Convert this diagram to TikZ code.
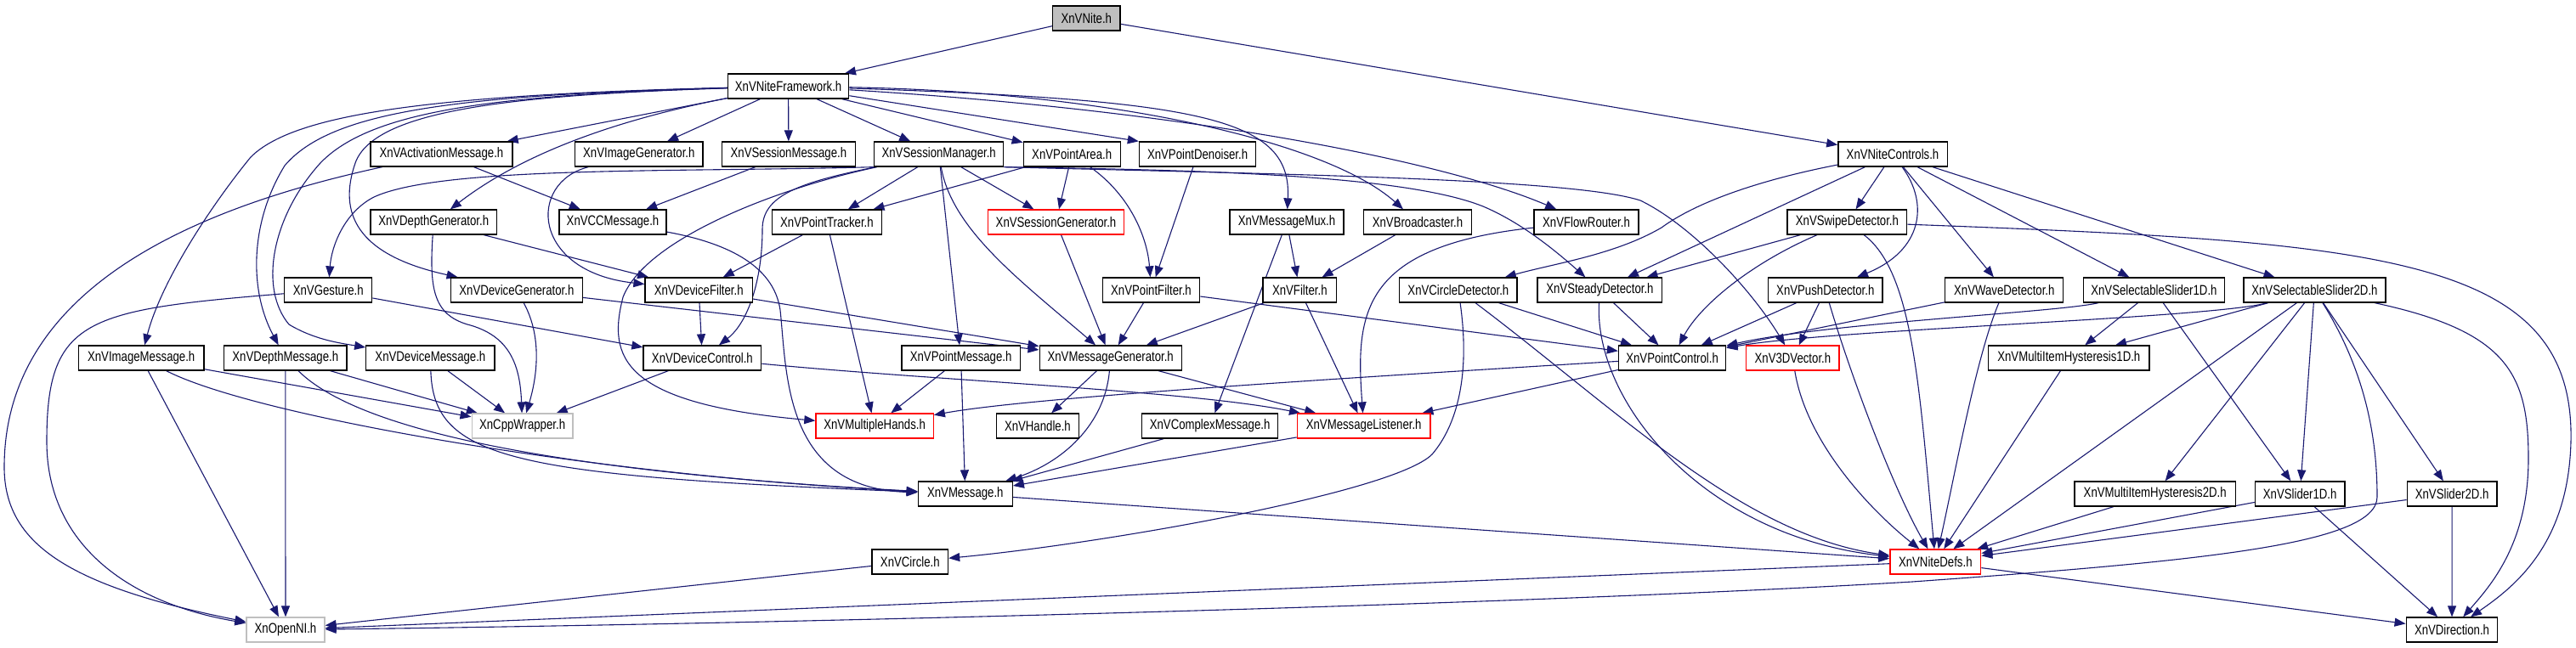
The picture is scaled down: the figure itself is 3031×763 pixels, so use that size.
\documentclass[tikz,border=0pt]{standalone}
\usepackage{fontspec}
\setmainfont{Liberation Sans}[FakeStretch=0.8]
\usetikzlibrary{arrows.meta,backgrounds}
\definecolor{edgeblue}{HTML}{191970}
\definecolor{boxgray}{HTML}{BFBFBF}
\newcommand\lab{\fontsize{16.5pt}{18pt}\selectfont}
\begin{document}
\begin{tikzpicture}[x=1pt,y=-1pt]
\tikzset{
  hbox/.style={draw=black, line width=1.3pt, minimum height=29pt, inner sep=0pt, fill=white, font=\lab},
  redbox/.style={hbox, draw=red},
  graybox/.style={hbox, draw=boxgray},
  edge/.style={draw=edgeblue, line width=1.1pt, -{Triangle[length=13pt,width=10pt]}},
}
\useasboundingbox (0,0) rectangle (3031,763);
% nodes
\node[hbox, fill=boxgray, minimum width=79.4pt] (nite) at (1278.3,21.5) {XnVNite.h};
\node[hbox, minimum width=142.3pt] (fw) at (927.6,101.5) {XnVNiteFramework.h};
\node[hbox, minimum width=167pt] (actmsg) at (519.4,181.5) {XnVActivationMessage.h};
\node[hbox, minimum width=150.6pt] (imggen) at (751.8,181.5) {XnVImageGenerator.h};
\node[hbox, minimum width=156.7pt] (sesmsg) at (927.9,181.5) {XnVSessionMessage.h};
\node[hbox, minimum width=152.2pt] (sesmgr) at (1104.7,181.5) {XnVSessionManager.h};
\node[hbox, minimum width=113.9pt] (ptarea) at (1261.2,181.5) {XnVPointArea.h};
\node[hbox, minimum width=137.3pt] (ptden) at (1409.1,181.5) {XnVPointDenoiser.h};
\node[hbox, minimum width=128.3pt] (nitectl) at (2227,181.5) {XnVNiteControls.h};
\node[hbox, minimum width=148.7pt] (depgen) at (510.2,261.5) {XnVDepthGenerator.h};
\node[hbox, minimum width=126pt] (ccmsg) at (721,261.5) {XnVCCMessage.h};
\node[hbox, minimum width=129.3pt] (pttrk) at (972.9,261.5) {XnVPointTracker.h};
\node[redbox, minimum width=160.2pt] (sesgen) at (1242.5,261.5) {XnVSessionGenerator.h};
\node[hbox, minimum width=134.2pt] (msgmux) at (1514,261.5) {XnVMessageMux.h};
\node[hbox, minimum width=126.8pt] (bcast) at (1668,261.5) {XnVBroadcaster.h};
\node[hbox, minimum width=122.9pt] (flow) at (1866.5,261.5) {XnVFlowRouter.h};
\node[hbox, minimum width=140.8pt] (swipe) at (2173.4,261.5) {XnVSwipeDetector.h};
\node[hbox, minimum width=103pt] (gest) at (386.3,341.5) {XnVGesture.h};
\node[hbox, minimum width=155.2pt] (devgen) at (607.9,341.5) {XnVDeviceGenerator.h};
\node[hbox, minimum width=126.3pt] (devflt) at (822.2,341.5) {XnVDeviceFilter.h};
\node[hbox, minimum width=114.4pt] (ptflt) at (1354.5,341.5) {XnVPointFilter.h};
\node[hbox, minimum width=86.6pt] (filter) at (1529.3,341.5) {XnVFilter.h};
\node[hbox, minimum width=138.3pt] (circdet) at (1715.9,341.5) {XnVCircleDetector.h};
\node[hbox, minimum width=146.7pt] (steady) at (1882.4,341.5) {XnVSteadyDetector.h};
\node[hbox, minimum width=134.3pt] (push) at (2147.8,341.5) {XnVPushDetector.h};
\node[hbox, minimum width=139pt] (wave) at (2358.3,341.5) {XnVWaveDetector.h};
\node[hbox, minimum width=166.4pt] (sel1) at (2534.4,341.5) {XnVSelectableSlider1D.h};
\node[hbox, minimum width=166.9pt] (sel2) at (2723.4,341.5) {XnVSelectableSlider2D.h};
\node[hbox, minimum width=147.3pt] (imgmsg) at (166.2,421.5) {XnVImageMessage.h};
\node[hbox, minimum width=144.3pt] (depmsg) at (335.8,421.5) {XnVDepthMessage.h};
\node[hbox, minimum width=151.2pt] (devmsg) at (506.4,421.5) {XnVDeviceMessage.h};
\node[hbox, minimum width=138.8pt] (devctl) at (826.4,421.5) {XnVDeviceControl.h};
\node[hbox, minimum width=139.3pt] (ptmsg) at (1130.6,421.5) {XnVPointMessage.h};
\node[hbox, minimum width=167.1pt] (msggen) at (1306.7,421.5) {XnVMessageGenerator.h};
\node[hbox, minimum width=126.3pt] (ptctl) at (1967.6,421.5) {XnVPointControl.h};
\node[redbox, minimum width=109.4pt] (v3d) at (2109.4,421.5) {XnV3DVector.h};
\node[hbox, minimum width=189.2pt] (mih1) at (2434.3,421.5) {XnVMultiItemHysteresis1D.h};
\node[graybox, minimum width=118.9pt] (cpp) at (614.6,501.5) {XnCppWrapper.h};
\node[redbox, minimum width=138.3pt] (mhands) at (1029.1,501.5) {XnVMultipleHands.h};
\node[hbox, minimum width=97pt] (handle) at (1220.9,501.5) {XnVHandle.h};
\node[hbox, minimum width=160.2pt] (cplx) at (1423.6,501.5) {XnVComplexMessage.h};
\node[redbox, minimum width=156.7pt] (listener) at (1604.7,501.5) {XnVMessageListener.h};
\node[hbox, minimum width=111pt] (msg) at (1135.8,581.5) {XnVMessage.h};
\node[hbox, minimum width=189.7pt] (mih2) at (2535.7,581.5) {XnVMultiItemHysteresis2D.h};
\node[hbox, minimum width=105.6pt] (sl1) at (2706.2,581.5) {XnVSlider1D.h};
\node[hbox, minimum width=105.6pt] (sl2) at (2885.1,581.5) {XnVSlider2D.h};
\node[hbox, minimum width=89.5pt] (circ) at (1070.8,661.5) {XnVCircle.h};
\node[redbox, minimum width=106.9pt] (defs) at (2277.3,661.5) {XnVNiteDefs.h};
\node[graybox, minimum width=92pt] (openni) at (336,741.5) {XnOpenNI.h};
\node[hbox, minimum width=107.6pt] (dir) at (2885,741.5) {XnVDirection.h};

\begin{pgfonlayer}{background}
\fill[white] (0,0) rectangle (3031,763);
\draw[edge] (nite) -- (fw);
\draw[edge] (nite) -- (nitectl);
% framework
\draw[edge] (fw) -- (actmsg);
\draw[edge] (fw) -- (imggen);
\draw[edge] (fw) -- (sesmsg);
\draw[edge] (fw) -- (sesmgr);
\draw[edge] (fw) -- (ptarea);
\draw[edge] (fw) -- (ptden.north west);
\draw[edge] (fw) .. controls (1420,118) and (1520,140) .. (msgmux);
\draw[edge] (fw) .. controls (1300,108) and (1560,165) .. (bcast);
\draw[edge] (fw) .. controls (1400,130) and (1700,190) .. (flow);
\draw[edge] (fw) .. controls (680,150) and (590,200) .. (depgen);
\draw[edge] (fw) .. controls (600,112) and (440,130) .. (418,192) .. controls (398,250) and (418,300) .. (devgen);
\draw[edge] (fw) .. controls (500,112) and (345,135) .. (295,185) .. controls (250,240) and (190,330) .. (imgmsg);
\draw[edge] (fw) .. controls (540,112) and (390,130) .. (335,195) .. controls (295,260) and (292,340) .. (depmsg);
\draw[edge] (fw) .. controls (580,112) and (425,130) .. (370,200) .. controls (320,260) and (305,340) .. (340,382) .. controls (370,400) and (400,404) .. (devmsg);
% activation message
\draw[edge] (actmsg) -- (ccmsg);
\draw[edge] (actmsg) .. controls (250,240) and (5,330) .. (5,550) .. controls (5,640) and (80,690) .. (openni);
\draw[edge] (imggen) .. controls (620,215) and (625,320) .. (devflt);
\draw[edge] (sesmsg) -- (ccmsg);
% session manager
\draw[edge] (sesmgr) -- (pttrk);
\draw[edge] (sesmgr) -- (sesgen);
\draw[edge] (sesmgr) .. controls (1120,270) and (1200,330) .. (msggen);
\draw[edge] (sesmgr) -- (ptmsg);
\draw[edge] (sesmgr) .. controls (940,215) and (897,230) .. (897,270) .. controls (897,330) and (880,380) .. (devctl);
\draw[edge] (sesmgr) .. controls (920,220) and (760,280) .. (733,350) .. controls (715,420) and (730,475) .. (mhands);
\draw[edge] (sesmgr.south west) .. controls (800,203) and (520,195) .. (440,232) .. controls (405,250) and (390,290) .. (gest);
\draw[edge] (sesmgr.south east) .. controls (1400,200) and (1650,205) .. (1745,243) .. controls (1790,262) and (1830,295) .. (steady);
\draw[edge] (sesmgr.south east) .. controls (1500,205) and (1850,210) .. (1930,236) .. controls (1990,265) and (2060,340) .. (v3d);
% point area / denoiser
\draw[edge] (ptarea) -- (pttrk);
\draw[edge] (ptarea) -- (sesgen);
\draw[edge] (ptarea) .. controls (1330,230) and (1350,280) .. (ptflt);
\draw[edge] (ptden) -- (ptflt);
% nite controls
\draw[edge] (nitectl) .. controls (2080,210) and (2000,235) .. (1955,268) .. controls (1900,300) and (1830,310) .. (circdet);
\draw[edge] (nitectl) -- (steady);
\draw[edge] (nitectl) -- (swipe);
\draw[edge] (nitectl) .. controls (2270,240) and (2262,295) .. (push);
\draw[edge] (nitectl) -- (wave);
\draw[edge] (nitectl) -- (sel1);
\draw[edge] (nitectl) -- (sel2);
% row 3
\draw[edge] (depgen) -- (devflt);
\draw[edge] (depgen) .. controls (505,340) and (510,370) .. (550,382) .. controls (600,395) and (612,430) .. (cpp);
\draw[edge] (ccmsg) .. controls (850,285) and (910,310) .. (918,365) .. controls (926,440) and (922,575) .. (msg);
\draw[edge] (pttrk) -- (devflt);
\draw[edge] (pttrk) -- (mhands);
\draw[edge] (sesgen) -- (msggen);
\draw[edge] (msgmux) -- (filter);
\draw[edge] (msgmux) -- (cplx);
\draw[edge] (bcast) -- (filter);
\draw[edge] (flow) .. controls (1600,290) and (1595,370) .. (listener);
\draw[edge] (swipe) -- (steady);
\draw[edge] (swipe) .. controls (2060,310) and (2000,360) .. (ptctl);
\draw[edge] (swipe) .. controls (2250,320) and (2258,450) .. (defs);
\draw[edge] (swipe) .. controls (2800,285) and (3030,300) .. (3025,520) .. controls (3022,640) and (2960,690) .. (dir);
% row 4
\draw[edge] (gest) .. controls (100,365) and (55,375) .. (55,520) .. controls (55,640) and (150,710) .. (openni);
\draw[edge] (gest) -- (devctl);
\draw[edge] (devgen) .. controls (640,400) and (630,450) .. (cpp);
\draw[edge] (devgen) -- (msggen);
\draw[edge] (devflt) -- (devctl);
\draw[edge] (devflt) -- (msggen);
\draw[edge] (ptflt) -- (msggen);
\draw[edge] (ptflt) -- (ptctl);
\draw[edge] (filter) -- (msggen);
\draw[edge] (filter) -- (listener);
\draw[edge] (circdet) -- (ptctl);
\draw[edge] (circdet) .. controls (1730,440) and (1715,500) .. (1685,535) .. controls (1640,580) and (1300,640) .. (circ);
\draw[edge] (circdet) .. controls (1900,480) and (2050,630) .. (defs);
\draw[edge] (steady) -- (ptctl);
\draw[edge] (steady) .. controls (1875,470) and (2000,630) .. (defs);
\draw[edge] (push) -- (ptctl);
\draw[edge] (push) -- (v3d);
\draw[edge] (push) .. controls (2180,450) and (2230,580) .. (defs);
\draw[edge] (wave) -- (ptctl);
\draw[edge] (wave) .. controls (2325,420) and (2300,560) .. (defs);
\draw[edge] (sel1) .. controls (2420,368) and (2150,380) .. (ptctl);
\draw[edge] (sel1) -- (mih1);
\draw[edge] (sel1) -- (sl1);
\draw[edge] (sel2) .. controls (2600,375) and (2150,388) .. (ptctl);
\draw[edge] (sel2) -- (mih1);
\draw[edge] (sel2) -- (mih2);
\draw[edge] (sel2) -- (sl1);
\draw[edge] (sel2) -- (sl2);
\draw[edge] (sel2) -- (defs);
\draw[edge] (sel2) .. controls (2950,390) and (2975,440) .. (2975,540) .. controls (2975,640) and (2930,690) .. (dir);
\draw[edge] (sel2) .. controls (2785,440) and (2797,520) .. (2797,585) .. controls (2797,640) and (2600,660) .. (2250,685) .. controls (1800,712) and (900,735) .. (openni);
% row 5
\draw[edge] (imgmsg) -- (cpp);
\draw[edge] (imgmsg) .. controls (300,490) and (700,560) .. (msg);
\draw[edge] (imgmsg) -- (openni);
\draw[edge] (depmsg) -- (cpp);
\draw[edge] (depmsg) .. controls (430,515) and (700,558) .. (msg);
\draw[edge] (depmsg) -- (openni);
\draw[edge] (devmsg) -- (cpp);
\draw[edge] (devmsg) .. controls (510,540) and (600,560) .. (msg);
\draw[edge] (devctl) -- (cpp);
\draw[edge] (devctl) .. controls (1100,448) and (1400,460) .. (listener);
\draw[edge] (ptmsg) -- (mhands);
\draw[edge] (ptmsg) -- (msg);
\draw[edge] (msggen) -- (handle);
\draw[edge] (msggen) -- (listener);
\draw[edge] (msggen) .. controls (1300,500) and (1250,545) .. (msg);
\draw[edge] (ptctl) .. controls (1500,450) and (1200,470) .. (mhands);
\draw[edge] (ptctl) -- (listener);
\draw[edge] (v3d) .. controls (2125,520) and (2200,600) .. (defs);
\draw[edge] (mih1) -- (defs);
% lower rows
\draw[edge] (cplx) -- (msg);
\draw[edge] (listener) -- (msg);
\draw[edge] (msg) -- (defs);
\draw[edge] (mih2) -- (defs);
\draw[edge] (sl1) -- (defs);
\draw[edge] (sl1) -- (dir);
\draw[edge] (sl2) -- (defs);
\draw[edge] (sl2) -- (dir);
\draw[edge] (circ) -- (openni);
\draw[edge] (defs) -- (openni);
\draw[edge] (defs) -- (dir);
\end{pgfonlayer}
\end{tikzpicture}
\end{document}
